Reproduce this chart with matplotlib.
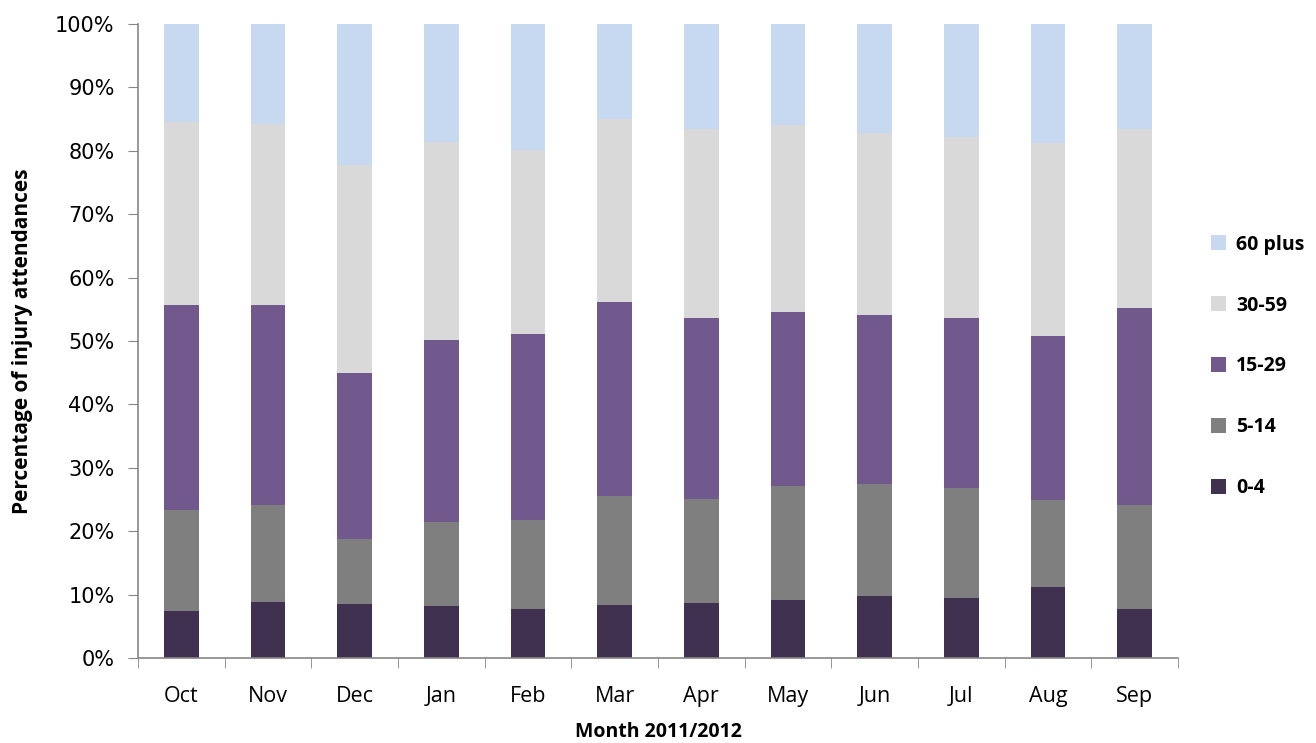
import numpy as np
import matplotlib.pyplot as plt
from matplotlib.ticker import PercentFormatter

# Datos (porcentaje por grupo de edad)
meses = ["Oct", "Nov", "Dec", "Jan", "Feb", "Mar", "Apr", "May", "Jun", "Jul", "Aug", "Sep"]
edad_0_4 = [7.4, 8.9, 8.5, 8.2, 7.7, 8.3, 8.7, 9.2, 9.8, 9.5, 11.2, 7.8]
edad_5_14 = [16.0, 15.3, 10.3, 13.2, 14.0, 17.2, 16.4, 18.0, 17.7, 17.3, 13.7, 16.4]
edad_15_29 = [32.3, 31.4, 26.2, 28.8, 29.4, 30.6, 28.6, 27.3, 26.6, 26.9, 25.9, 31.0]
edad_30_59 = [28.9, 28.6, 32.7, 31.2, 29.0, 28.9, 29.8, 29.5, 28.7, 28.5, 30.5, 28.3]
edad_60 = [15.4, 15.8, 22.3, 18.6, 19.9, 15.0, 16.5, 16.0, 17.2, 17.8, 18.7, 16.5]

series = [
    ("0-4", edad_0_4, "#403151"),
    ("5-14", edad_5_14, "#7f7f7f"),
    ("15-29", edad_15_29, "#71598e"),
    ("30-59", edad_30_59, "#d9d9d9"),
    ("60 plus", edad_60, "#c6d9f1"),
]

fig = plt.figure(figsize=(13.16, 7.43), dpi=100)
ax = fig.add_axes([0.105, 0.1144, 0.79, 0.8533])

x = np.arange(len(meses))
base = np.zeros(len(meses))
for nombre, valores, color in series:
    ax.bar(x, valores, 0.4, bottom=base, color=color, label=nombre)
    base += np.array(valores)

ax.set_xlim(-0.5, len(meses) - 0.5)
ax.set_ylim(0, 100)
ax.set_yticks(np.arange(0, 101, 10))
ax.yaxis.set_major_formatter(PercentFormatter(decimals=0))
ax.set_xticks(x)
ax.set_xticklabels(meses, fontsize=15.5, family="Open Sans")
ax.set_xticks(np.arange(-0.5, len(meses)), minor=True)
ax.tick_params(axis="x", which="major", length=0, pad=20)
ax.tick_params(axis="x", which="minor", length=7, color="#868686", direction="out")
ax.tick_params(axis="y", length=7, color="#868686", labelsize=15, pad=10)
for lbl in ax.get_yticklabels():
    lbl.set_family("DejaVu Sans")

for s in ["top", "right"]:
    ax.spines[s].set_visible(False)
for s in ["left", "bottom"]:
    ax.spines[s].set_color("#868686")
    ax.spines[s].set_linewidth(1.2)

ax.set_xlabel("Month 2011/2012", fontsize=14, fontweight="bold", family="Open Sans", labelpad=11)
ax.set_ylabel("Percentage of injury attendances", fontsize=15, fontweight="bold", family="Open Sans", labelpad=16)

handles, labels = ax.get_legend_handles_labels()
ax.legend(handles[::-1], labels[::-1], loc="center left", bbox_to_anchor=(1.015, 0.46),
          frameon=False, prop={"size": 14, "weight": "bold", "family": "Open Sans"},
          handlelength=0.8, handleheight=0.8, labelspacing=2.1, handletextpad=0.5)

plt.savefig("out.png", dpi=100)
